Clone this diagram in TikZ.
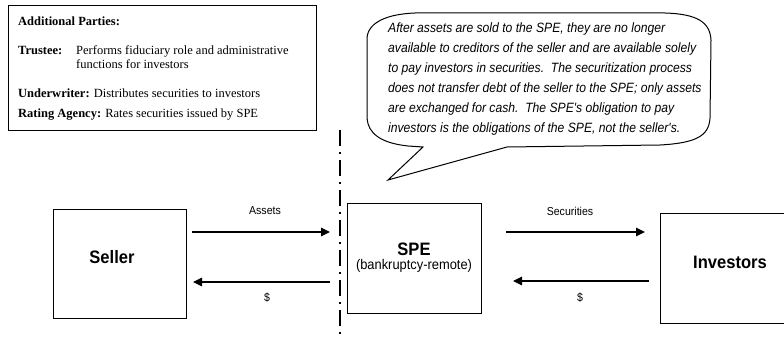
\documentclass[tikz,border=0pt]{standalone}
\usepackage{fontspec}
\setmainfont{Liberation Serif}
\newfontfamily\diagsans[FakeStretch=0.92]{Liberation Sans}
\newfontfamily\callf[FakeStretch=0.9]{Liberation Sans}
\usetikzlibrary{arrows.meta}
\begin{document}
\begin{tikzpicture}[x=1pt,y=-1pt,
  entity/.style={draw, line width=1.1pt, inner sep=0pt},
  flow/.style={line width=1.2pt, -{Triangle[length=9pt,width=8.5pt]}},
  lbl/.style={font=\diagsans\fontsize{11.5}{13}\selectfont, inner sep=0pt},
  big/.style={font=\diagsans\bfseries\fontsize{18}{20}\selectfont, inner sep=0pt},
  partytxt/.style={font=\fontsize{12.5}{14}\selectfont, anchor=base west, inner sep=0pt}
]
\useasboundingbox (0,0) rectangle (784,337);
% additional parties box
\node[entity, line width=1pt, minimum width=308pt, minimum height=125pt, anchor=north west] (parties) at (8,5) {};
\node[partytxt] (p1) at (18,26) {\textbf{Additional Parties:}};
\node[partytxt] (p2) at (18,55) {\textbf{Trustee:}};
\node[partytxt] (p2b) at (76,55) {Performs fiduciary role and administrative};
\node[partytxt] (p2c) at (76,69) {functions for investors};
\node[partytxt] (p3) at (18,97) {\textbf{Underwriter:} Distributes securities to investors};
\node[partytxt] (p4) at (18,117) {\textbf{Rating Agency:} Rates securities issued by SPE};

% callout
\draw[line width=1pt] (367,38) .. controls (368,22) and (388,14) .. (415,13)
  -- (665,13) .. controls (697,14) and (710,22) .. (711,40)
  -- (710,118) .. controls (709,136) and (696,143) .. (660,145)
  -- (507,147) -- (388,180) -- (423,147) -- (408,146)
  .. controls (380,143) and (368,133) .. (367,118) -- cycle;
\node[font=\callf\itshape\fontsize{13.5}{20}\selectfont, align=left, anchor=north west, inner sep=0pt] (calltext) at (388,23)
{After assets are sold to the SPE, they are no longer\\
available to creditors of the seller and are available solely\\
to pay investors in securities.\ \ The securitization process\\
does not transfer debt of the seller to the SPE; only assets\\
are exchanged for cash.\ \ The SPE's obligation to pay\\
investors is the obligations of the SPE, not the seller's.};

% dash-dot divider
\coordinate (divtop) at (340,130);
\coordinate (divbot) at (340,337);
\draw[line width=1.6pt, dash pattern=on 16pt off 6pt on 2pt off 6pt] (divtop) -- (divbot);

% entities
\node[entity, minimum width=133pt, minimum height=109pt, anchor=north west] (seller) at (53,209) {};
\node[big] at (112,257) {Seller};
\node[entity, minimum width=134pt, minimum height=110pt, anchor=north west] (spe) at (347,203) {};
\node[big] (spet) at (414,249) {SPE};
\node[font=\diagsans\fontsize{14}{16}\selectfont, inner sep=0pt] (spes) at (414,266) {(bankruptcy-remote)};
\node[entity, minimum width=140pt, minimum height=110pt, anchor=north west] (inv) at (660,213) {};
\node[big] at (730,262) {Investors};

% flows
\coordinate (a1) at (192,232);
\coordinate (a2) at (330,232);
\coordinate (b1) at (330,282);
\coordinate (b2) at (193,282);
\draw[flow] (a1) -- (a2);
\draw[flow] (b1) -- (b2);
\node[lbl] at (265,211) {Assets};
\node[lbl] at (267,298) {\$};
\coordinate (c1) at (506,232);
\coordinate (c2) at (645,232);
\coordinate (d1) at (649,281);
\coordinate (d2) at (513,281);
\draw[flow] (c1) -- (c2);
\draw[flow] (d1) -- (d2);
\node[lbl] at (570,211) {Securities};
\node[lbl] at (580,298) {\$};
\end{tikzpicture}
\end{document}
